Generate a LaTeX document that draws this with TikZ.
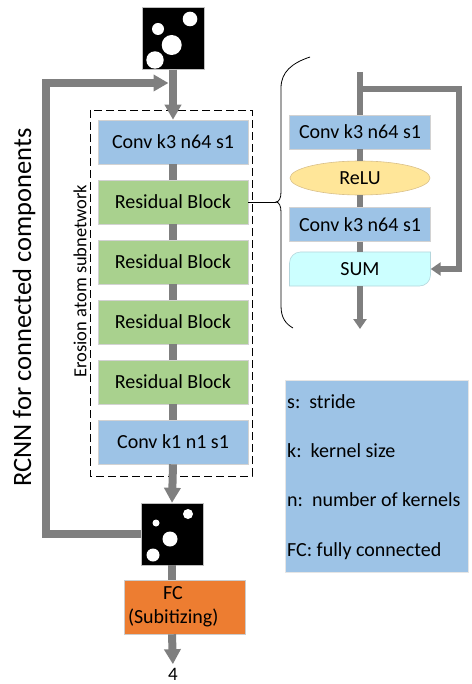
\documentclass[tikz,border=0pt]{standalone}
\usepackage{fontspec}
\setmainfont{Carlito}
\usetikzlibrary{arrows.meta,shapes.geometric}

\definecolor{convblue}{HTML}{9DC3E6}
\definecolor{resgreen}{HTML}{A9D18E}
\definecolor{fcorange}{HTML}{ED7D31}
\definecolor{linegray}{HTML}{7F7F7F}
\definecolor{reluyellow}{HTML}{FFE699}
\definecolor{reluedge}{HTML}{D9C08A}
\definecolor{sumcyan}{HTML}{CCFFFF}
\definecolor{sumedge}{HTML}{B4D6DC}

\begin{document}
\begin{tikzpicture}[x=1pt,y=-1pt,
  layerbox/.style={draw=gray!35,line width=0.6pt,minimum width=150pt,minimum height=44pt,inner sep=0pt,font=\fontsize{20}{24}\selectfont},
  convbox/.style={layerbox,fill=convblue},
  resbox/.style={layerbox,fill=resgreen},
  rconv/.style={convbox,minimum width=141pt,minimum height=34pt},
  maskimg/.style={fill=black,draw=gray!50,minimum size=62pt,inner sep=0pt},
  trunk/.style={draw=linegray,line width=8pt},
  branch/.style={draw=linegray,line width=5.5pt},
  bigarrow/.style={-{Triangle[length=15pt,width=16pt]}},
  smallarrow/.style={-{Triangle[length=10pt,width=13pt]}}]
\useasboundingbox (0,0) rectangle (471,684);

% input mask and the output mask
\node[maskimg] (img1) at (173,38.5) {};
\fill[white] (171.7,45) circle (10) (190,19) circle (7.3) (158,29) circle (6) (155,60) circle (8.7);
\node[maskimg] (img2) at (172,534) {};
\fill[white] (188,514) circle (5) (156,523) circle (3.5) (170,539) circle (7.5) (153,555) circle (6.5);

% erosion atom subnetwork
\draw[dash pattern=on 8pt off 4pt,line width=0.9pt] (90,110) rectangle (252,476);
\node[rotate=90,font=\fontsize{18.5}{22}\selectfont] (erolabel) at (80,281) {Erosion atom subnetwork};
\node[convbox] (c1) at (173,142) {Conv k3 n64 s1};
\node[resbox] (r1) at (173,202) {Residual Block};
\node[resbox] (r2) at (173,262) {Residual Block};
\node[resbox] (r3) at (173,322) {Residual Block};
\node[resbox] (r4) at (173,382) {Residual Block};
\node[convbox] (c2) at (173,442) {Conv k1 n1 s1};

\node[fill=fcorange,draw=gray!40,line width=0.6pt,minimum width=121pt,minimum height=54pt,inner sep=4pt,text width=113pt,align=left,font=\fontsize{20}{24}\selectfont] (fc) at (184.5,607) {\makebox[90pt]{FC}\\(Subitizing)};
\node[inner sep=0pt,font=\fontsize{19}{22}\selectfont] (four) at (173,674.5) {4};

\node[rotate=90,font=\fontsize{26.5}{30}\selectfont] (rcnnlabel) at (24,307.5) {RCNN for connected components};

\coordinate (merge) at (168.5,83);
\coordinate (loopcorner) at (46,83);

\draw[trunk,bigarrow] (img1.south) -- (c1.north);
\draw[trunk] (c1) -- (r1);
\draw[trunk] (r1) -- (r2);
\draw[trunk] (r2) -- (r3);
\draw[trunk] (r3) -- (r4);
\draw[trunk] (r4) -- (c2);
\draw[trunk,bigarrow] (c2.south) -- (img2.north);
\draw[trunk] (img2.south) -- (img2.south |- fc.north);
\draw[trunk,bigarrow,shorten >=4pt] (img2.south |- fc.south) -- (four.north);
\draw[trunk,bigarrow] (img2.west) -| (loopcorner) -- (merge);

% inside a residual block
\coordinate (bracetip) at (276,202);
\draw[line width=0.8pt] (310,57) .. controls (292,63) and (281,72) .. (281,88) -- (281,192)
  .. controls (281,198) and (279,202) .. (bracetip) .. controls (279,202) and (281,206) .. (281,212)
  -- (281,306) .. controls (281,318) and (286,324) .. (293,328);
\draw[line width=0.8pt] (r1.east) -- (bracetip);

\node[rconv] (ra) at (360,132) {Conv k3 n64 s1};
\node[ellipse,fill=reluyellow,draw=reluedge,line width=0.6pt,minimum width=140pt,minimum height=34pt,inner sep=0pt,font=\fontsize{20}{24}\selectfont] (relu) at (360,178) {ReLU};
\node[rconv] (rb) at (360,224.5) {Conv k3 n64 s1};
\coordinate (sumsw) at (289.5,286);
\coordinate (sumne) at (430.5,252);
\draw[fill=sumcyan,draw=sumedge,line width=0.6pt] (sumsw) [rounded corners=11pt] -- (sumsw |- sumne) [sharp corners] -- (sumne) [rounded corners=11pt] -- (sumne |- sumsw) [sharp corners] -- cycle;
\node[minimum width=141pt,minimum height=34pt,inner sep=0pt,font=\fontsize{20}{24}\selectfont] (sum) at (360,269) {SUM};

\coordinate (rtop) at (360,72);
\coordinate (split) at (360,89);
\coordinate (skipcorner) at (459,89);
\coordinate (rbottom) at (360,329);
\draw[branch] (rtop) -- (ra.north);
\draw[branch] (ra) -- (relu);
\draw[branch] (relu) -- (rb);
\draw[branch] (rb.south) -- (sum.north);
\draw[branch,smallarrow] (sum.south) -- (rbottom);
\draw[branch,smallarrow] (split) -- (skipcorner) |- (sum.east);

% legend
\node[fill=convblue,draw=gray!20,minimum width=183pt,minimum height=192pt] (legend) at (376.5,476) {};
\node[anchor=west,inner sep=0pt,align=left,font=\fontsize{20}{49.3}\selectfont] (legendtext) at (287,477) {s:\hspace{9pt}stride\\k:\hspace{9pt}kernel size\\n:\hspace{9pt}number of kernels\\FC: fully connected};
\end{tikzpicture}
\end{document}
